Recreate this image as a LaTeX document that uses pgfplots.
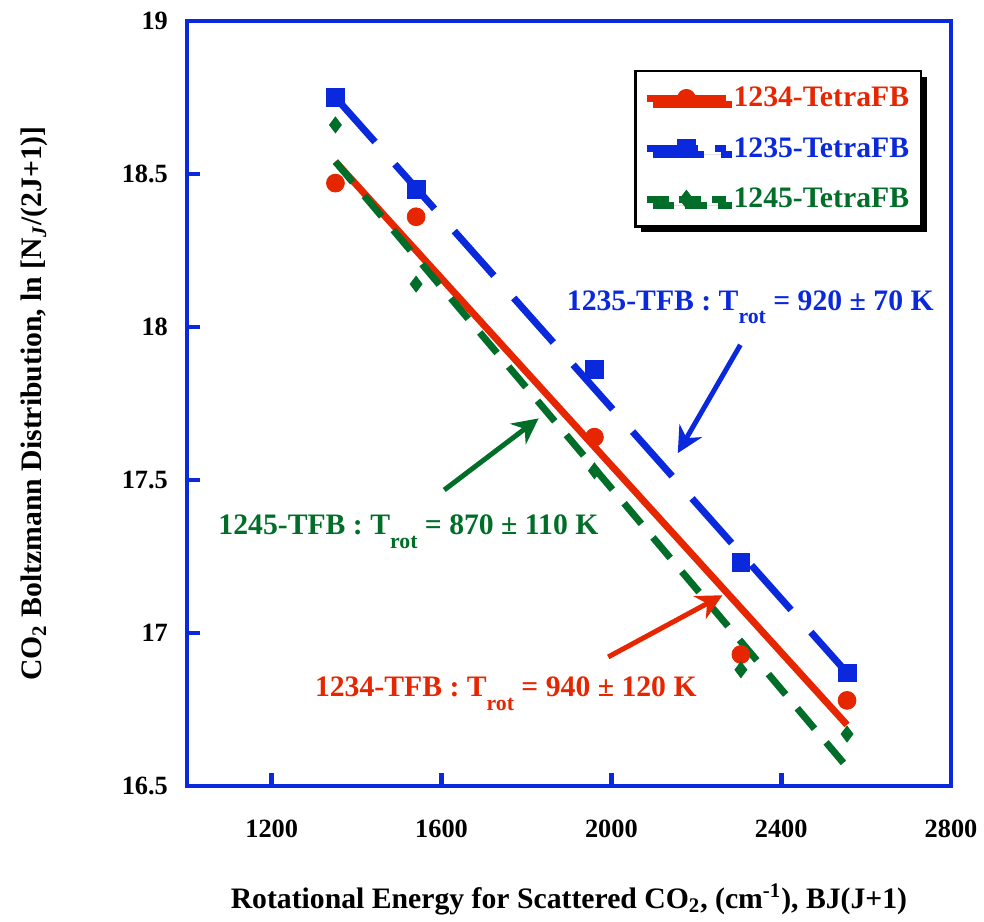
\documentclass[border=0pt]{standalone}
\usepackage{pgfplots}
\pgfplotsset{compat=1.18}
\usepackage{fontspec}
\setmainfont{Liberation Serif}
\usetikzlibrary{arrows.meta,shadows}
\definecolor{myred}{RGB}{230,38,0}
\definecolor{myblue}{RGB}{10,40,220}
\definecolor{mygreen}{RGB}{0,110,40}
\newcommand{\rot}{\raisebox{-7bp}{\fontsize{11}{12}\selectfont rot}}
\begin{document}
\begin{tikzpicture}
\begin{axis}[
  scale only axis,
  width=384.5bp, height=385bp,
  xmin=1000, xmax=2800, ymin=16.5, ymax=19,
  xtick={1200,1600,2000,2400,2800},
  ytick={16.5,17,17.5,18,18.5,19},
  xtick pos=bottom, ytick pos=left,
  tick align=inside,
  major tick length=6.5bp,
  axis line style={myblue, line width=2.3bp},
  every tick/.style={myblue, line width=2.3bp},
  /pgf/number format/assume math mode=true,
  /pgf/number format/1000 sep={},
  ticklabel style={font=\fontsize{13.3}{15}\selectfont\bfseries},
  yticklabel style={xshift=-6bp},
  xticklabel style={yshift=-13.5bp},
  xlabel={Rotational Energy for Scattered CO\textsubscript{2}, (cm\textsuperscript{-1}), BJ(J+1)},
  ylabel={CO\textsubscript{2} Boltzmann Distribution, ln [N\textsubscript{\textit{J}}/(2J+1)]},
  label style={font=\fontsize{15}{17}\selectfont\bfseries},
  x label style={at={([yshift=-61.5bp]axis description cs:0.5,0)}, anchor=base},
  y label style={at={([xshift=-73bp]axis description cs:0,0.5)}, anchor=base, rotate=0},
  legend image code/.code={\draw[mark repeat=2,mark phase=2,#1] plot coordinates {(0bp,0bp)(20bp,0bp)(40bp,0bp)};},
  legend style={at={(rel axis cs:0.585,0.936)}, anchor=north west,
    draw=black, line width=1.3bp, fill=white,
    font=\fontsize{15}{17}\selectfont\bfseries,
    inner xsep=4bp, inner ysep=6bp, row sep=10bp,
    drop shadow={shadow xshift=3bp, shadow yshift=-3bp, fill=black, opacity=1}},
  legend cell align=left,
  clip=false,
]
% legend images
\addlegendimage{myred, line width=3.5bp, mark=*, mark size=4.5bp, mark options={solid, line width=0.4pt}}
\addlegendentry{\textcolor{myred}{1234-TetraFB}}
\addlegendimage{myblue, line width=3.5bp, dash pattern=on 26bp off 8.5bp, mark=square*, mark size=4.5bp, mark options={solid, line width=0.4pt}}
\addlegendentry{\textcolor{myblue}{1235-TetraFB}}
\addlegendimage{mygreen, line width=3.5bp, dash pattern=on 11bp off 5.5bp, mark=diamond*, mark size=4.5bp, mark options={solid, line width=0.4pt}}
\addlegendentry{\textcolor{mygreen}{1245-TetraFB}}

% fit lines
\addplot[myred, line width=3.5bp, forget plot] coordinates {(1350,18.54) (2555,16.70)};
\addplot[myblue, line width=3.5bp, dash pattern=on 30bp off 15bp, forget plot] coordinates {(1350,18.75) (2555,16.87)};
\addplot[mygreen, line width=3.5bp, dash pattern=on 13.5bp off 9bp, forget plot] coordinates {(1350,18.54) (2550,16.57)};

% data points
\addplot[only marks, myred, mark=*, mark size=4.5bp, forget plot] coordinates {
  (1350,18.47) (1540,18.36) (1960,17.64) (2305,16.93) (2555,16.78)};
\addplot[only marks, myblue, mark=square*, mark size=4.5bp, forget plot] coordinates {
  (1350,18.75) (1540,18.45) (1960,17.86) (2305,17.23) (2555,16.87)};
\addplot[only marks, mygreen, mark=diamond*, mark size=4bp, forget plot] coordinates {
  (1350,18.66) (1540,18.14) (1960,17.53) (2305,16.88) (2555,16.67)};

% annotations
\draw[myblue, line width=2.5bp, -{Stealth[length=13bp,width=13bp]}] (rel axis cs:0.7243,0.5766) -- (rel axis cs:0.6424,0.4351);
\draw[mygreen, line width=2.5bp, -{Stealth[length=13bp,width=13bp]}] (rel axis cs:0.3368,0.3870) -- (rel axis cs:0.4603,0.4805);
\draw[myred, line width=2.5bp, -{Stealth[length=13bp,width=13bp]}] (rel axis cs:0.5514,0.1688) -- (rel axis cs:0.7009,0.2494);

\node[anchor=base, text=myblue, font=\fontsize{15}{17}\selectfont\bfseries, inner sep=0pt] at (rel axis cs:0.7373,0.6221) {1235-TFB : T\rot\ = 920 ± 70 K};
\node[anchor=base, text=mygreen, font=\fontsize{15}{17}\selectfont\bfseries, inner sep=0pt] at (rel axis cs:0.2900,0.3286) {1245-TFB : T\rot\ = 870 ± 110 K};
\node[anchor=base, text=myred, font=\fontsize{15}{17}\selectfont\bfseries, inner sep=0pt] at (rel axis cs:0.4174,0.1169) {1234-TFB : T\rot\ = 940 ± 120 K};
\end{axis}
\path ([shift={(-94bp,-66bp)}]current axis.south west) rectangle ([shift={(13.5bp,10.5bp)}]current axis.north east);
\end{tikzpicture}
\end{document}
